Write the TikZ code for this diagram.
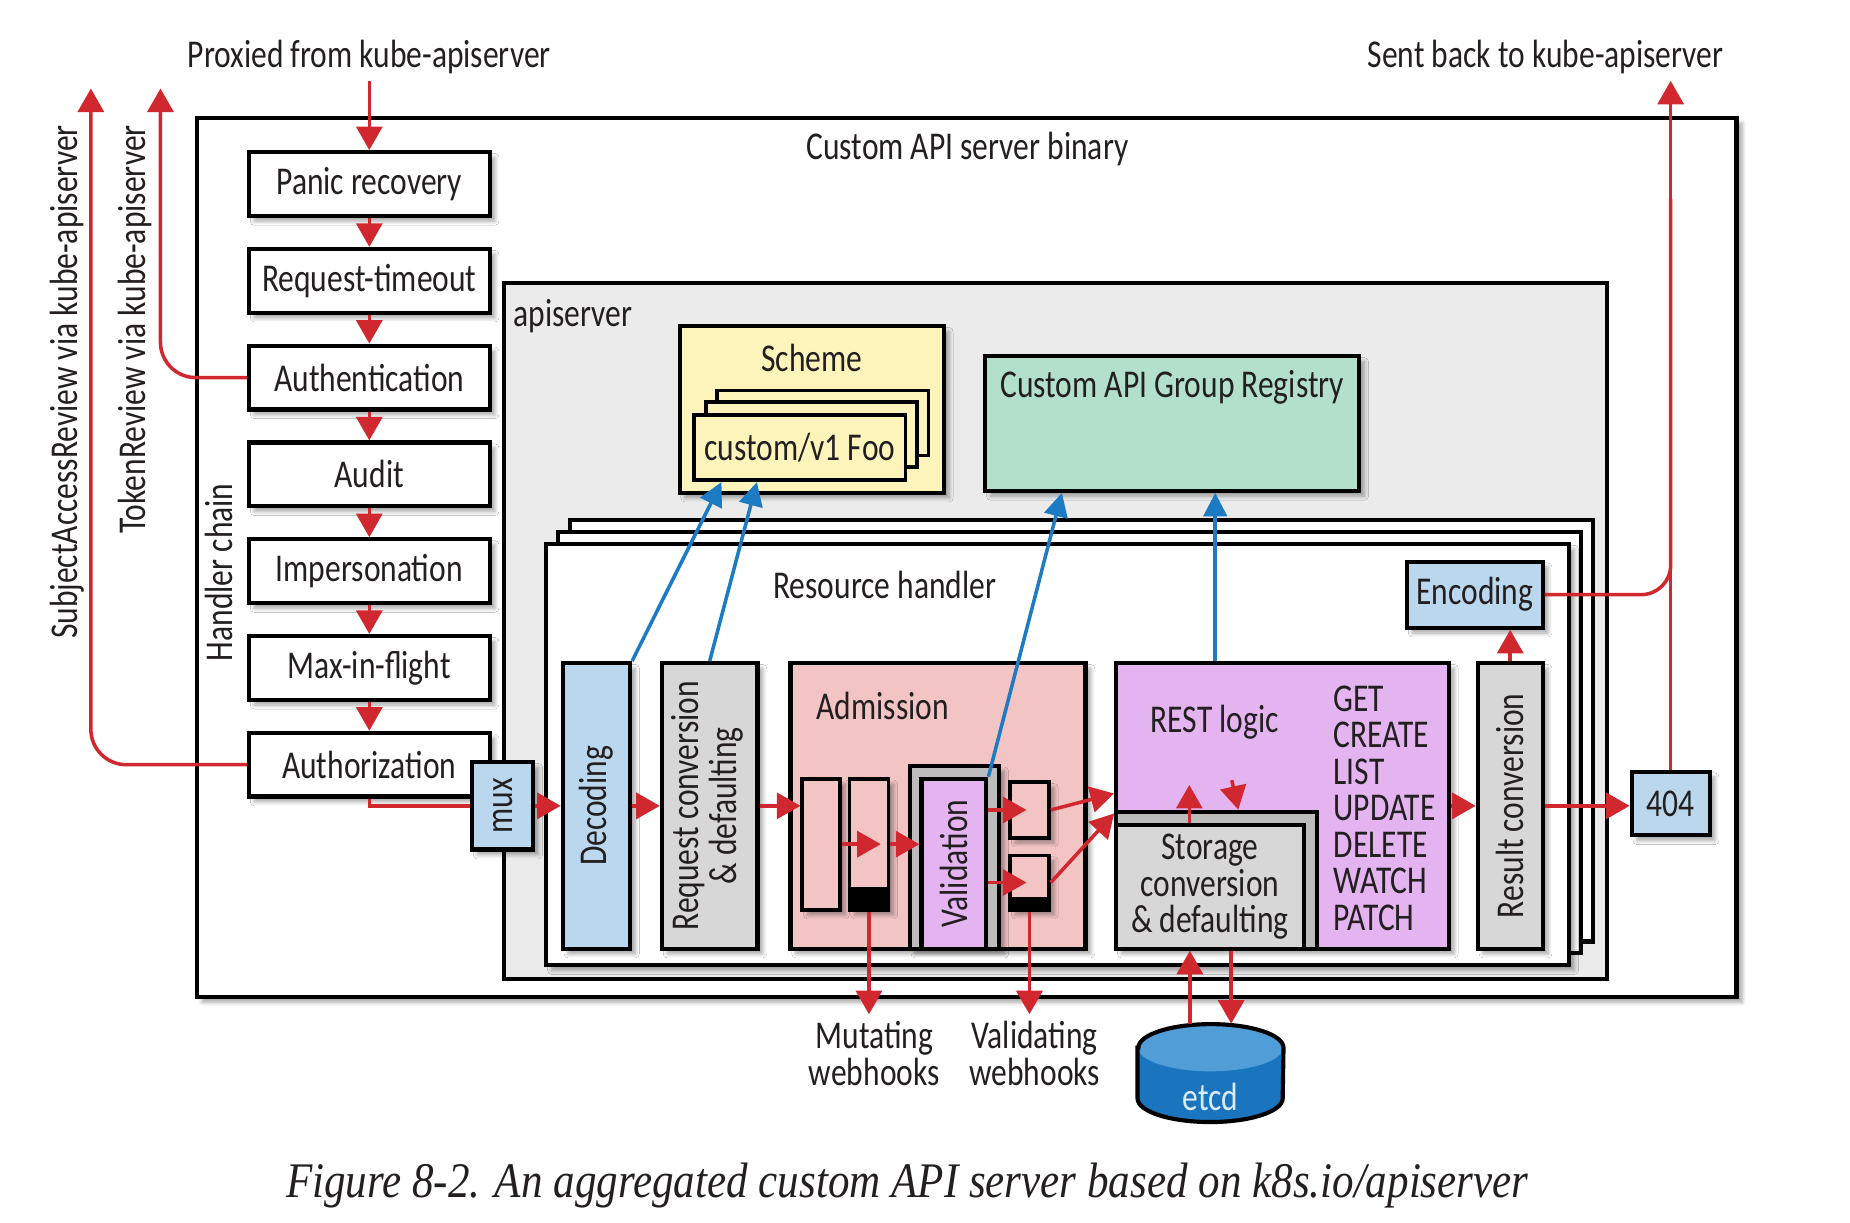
\documentclass[tikz,border=0pt]{standalone}
\usepackage{fontspec}
\usepackage{graphicx}
\setmainfont{Carlito}[FakeStretch=0.8]
\newfontfamily\capfont{Liberation Serif}[FakeStretch=0.865]
\usetikzlibrary{arrows.meta}
\usetikzlibrary{calc}
\usetikzlibrary{positioning}
\usetikzlibrary{shadows.blur}

\definecolor{txt}{RGB}{35,31,32}
\definecolor{bluefill}{RGB}{187,215,237}
\definecolor{grayfill}{RGB}{215,215,215}
\definecolor{pinkfill}{RGB}{243,196,196}
\definecolor{violetfill}{RGB}{228,180,241}
\definecolor{yellowfill}{RGB}{252,244,186}
\definecolor{greenfill}{RGB}{179,224,202}
\definecolor{apigray}{RGB}{235,235,235}
\definecolor{framegray}{RGB}{188,188,188}
\definecolor{redline}{RGB}{208,40,46}
\definecolor{bluearrow}{RGB}{28,123,194}
\definecolor{etcdblue}{RGB}{26,117,190}
\definecolor{etcdtop}{RGB}{80,157,216}
\definecolor{etcdtxt}{RGB}{215,235,250}

\tikzset{
  plainbox/.style={draw=black, line width=2pt, inner sep=0pt},
  boxshadow/.style={blur shadow={shadow xshift=0.9mm, shadow yshift=-0.9mm, shadow blur steps=6, shadow opacity=35}},
  chainbox/.style={plainbox, boxshadow, fill=white, minimum width=40.8mm, minimum height=10.8mm},
  tallbox/.style={plainbox, boxshadow, minimum height=48.4mm},
  cardbox/.style={plainbox, line width=1.8pt, fill=yellowfill, minimum width=35.8mm, minimum height=11mm},
  rhcard/.style={plainbox, fill=white, minimum width=173.4mm, minimum height=71.4mm},
  minibox/.style={plainbox, boxshadow, line width=1.8pt, fill=pinkfill},
  blackfoot/.style={path picture={\fill[black] (path picture bounding box.south west) rectangle ([yshift=#1]path picture bounding box.south east);}},
  redline/.style={draw=redline, line width=1.7pt},
  redarrow/.style={redline, -{Triangle[width=4.4mm,length=4mm]}},
  bluearrow/.style={draw=bluearrow, line width=1.7pt, -{Triangle[width=4mm,length=4mm]}}
}

\begin{document}
\begin{tikzpicture}[x=0.2mm, y=-0.2mm, font=\fontsize{19}{17.6}\selectfont, text=txt]
  \useasboundingbox (0,0) rectangle (1568,1036);

  % custom API server binary
  \node[plainbox, boxshadow, line width=2.3pt, fill=white, minimum width=261mm, minimum height=149mm] (binary) at (819.5,472.5) {};
  \node (binlbl) at (820,126) {Custom API server binary};

  % handler chain
  \node[chainbox] (panic) at (313,156) {Panic recovery};
  \node[chainbox, below=4.9mm of panic] (timeout) {Request-timeout};
  \node[chainbox, below=4.9mm of timeout] (authn) {Authentication};
  \node[chainbox, below=4.9mm of authn] (audit) {Audit};
  \node[chainbox, below=4.9mm of audit] (imperson) {Impersonation};
  \node[chainbox, below=4.9mm of imperson] (maxflight) {Max-in-flight};
  \node[chainbox, below=4.9mm of maxflight] (authz) {Authorization};
  \node[rotate=90] (hclbl) at (186,485) {Handler chain};

  \foreach \a/\b in {panic/timeout, timeout/authn, authn/audit, audit/imperson, imperson/maxflight, maxflight/authz}
    \draw[redarrow] (\a) -- (\b);

  \node (proxied) at (313,48) {Proxied from kube-apiserver};
  \node (sentback) at (1310,48) {Sent back to kube-apiserver};
  \draw[redarrow] (proxied.south) -- (panic.north);

  % reviews sent back to kube-apiserver
  \coordinate (sartop) at (77,75);
  \coordinate (trtop) at (136,75);
  \node[rotate=90, anchor=east] (sarlbl) at (57,100) {SubjectAccessReview via kube-apiserver};
  \node[rotate=90, anchor=east] (trlbl) at (114,100) {TokenReview via kube-apiserver};
  \draw[redarrow, rounded corners=6mm] (authz.west) -| (sartop);
  \draw[redarrow, rounded corners=6mm] (authn.west) -| (trtop);

  % apiserver
  \node[plainbox, fill=apigray, minimum width=187mm, minimum height=118mm] (api) at (894.5,535) {};
  \node[anchor=west] (apilbl) at (429,268) {apiserver};

  \node[plainbox, boxshadow, fill=yellowfill, minimum width=44.8mm, minimum height=28.2mm] (scheme) at (688,347) {};
  \node (schemelbl) at (688,303) {Scheme};
  \node[cardbox] (card3) at (697.5,358.5) {};
  \node[cardbox] (card2) at (688,368.5) {};
  \node[cardbox] (foo) at (678,379.5) {custom/v1 Foo};

  \node[plainbox, boxshadow, fill=greenfill, minimum width=63.4mm, minimum height=22.8mm] (reg) at (993.5,359) {};
  \node (reglbl) at (993.5,328) {Custom API Group Registry};

  % resource handler
  \node[rhcard] (rh3) at (916.5,619.5) {};
  \node[rhcard] (rh2) at (906.5,629.5) {};
  \node[rhcard, boxshadow] (rh) at (896.5,639.5) {};
  \node (rhlbl) at (750,496) {Resource handler};

  \node[plainbox, boxshadow, fill=bluefill, minimum width=10.4mm, minimum height=14.8mm] (mux) at (426,683) {\rotatebox{90}{mux}};
  \node[tallbox, fill=bluefill, minimum width=11.4mm] (dec) at (505.5,683) {\rotatebox{90}{Decoding}};
  \node[tallbox, fill=grayfill, minimum width=16.2mm] (reqconv) at (601.5,683) {\rotatebox{90}{\begin{tabular}{@{}c@{}}Request conversion\\\& defaulting\end{tabular}}};

  % admission
  \node[tallbox, fill=pinkfill, minimum width=50mm] (adm) at (795,683) {};
  \node[anchor=west] (admlbl) at (686,598) {Admission};
  \node[minibox, minimum width=6.4mm, minimum height=22.2mm] (mut1) at (696,715.5) {};
  \node[minibox, blackfoot=3.8mm, minimum width=6.6mm, minimum height=22.2mm] (mut2) at (736.5,715.5) {};
  \node[plainbox, boxshadow, fill=framegray, minimum width=15.2mm, minimum height=31mm] (valframe) at (809,726.5) {};
  \node[plainbox, fill=violetfill, minimum width=11mm, minimum height=28.8mm] (val) at (808.5,732) {\rotatebox{90}{Validation}};
  \node[minibox, minimum width=6.6mm, minimum height=9.4mm] (valA) at (872.5,686.5) {};
  \node[minibox, blackfoot=2.2mm, minimum width=6.6mm, minimum height=9.2mm] (valB) at (872.5,748) {};

  % REST logic and storage
  \node[tallbox, fill=violetfill, minimum width=56.4mm] (rest) at (1087,683) {};
  \node[anchor=west] (restlbl) at (969,612) {REST logic};
  \node[anchor=north west, align=left, inner sep=0pt] (verbs) at (1130,581) {GET\\CREATE\\LIST\\UPDATE\\DELETE\\WATCH\\PATCH};
  \node[plainbox, fill=framegray, minimum width=34mm, minimum height=23.2mm] (stframe) at (1031,746) {};
  \node[plainbox, fill=grayfill, minimum width=31.8mm, minimum height=21mm, align=center] (storage) at (1025.5,751.5) {Storage\\conversion\\\& defaulting};

  \node[tallbox, fill=grayfill, minimum width=11mm] (res) at (1280,683) {\rotatebox{90}{Result conversion}};
  \node[plainbox, boxshadow, fill=bluefill, minimum width=23mm, minimum height=11.2mm] (enc) at (1250,504) {Encoding};
  \node[plainbox, boxshadow, fill=bluefill, minimum width=13.2mm, minimum height=10.8mm] (nf) at (1416,681) {404};

  % etcd
  \node[inner sep=0pt, minimum width=24.6mm, minimum height=16.6mm] (etcd) at (1026,909.5) {};
  \fill[etcdblue] ([yshift=4.3mm]etcd.west) -- ([yshift=-4.3mm]etcd.west)
    arc[start angle=180, end angle=360, x radius=12.3mm, y radius=4mm] -- ([yshift=4.3mm]etcd.east)
    arc[start angle=0, end angle=180, x radius=12.3mm, y radius=4mm] -- cycle;
  \fill[etcdtop] ([yshift=4.3mm]etcd.center) ellipse[x radius=12.3mm, y radius=4mm];
  \draw[line width=2pt] ([yshift=4.3mm]etcd.west) -- ([yshift=-4.3mm]etcd.west)
    arc[start angle=180, end angle=360, x radius=12.3mm, y radius=4mm] -- ([yshift=4.3mm]etcd.east)
    arc[start angle=0, end angle=180, x radius=12.3mm, y radius=4mm] -- cycle;
  \node[text=etcdtxt] (etcdlbl) at ([yshift=-4mm]etcd.center) {etcd};

  \node[align=center] (mutwh) at (741,893) {Mutating\\webhooks};
  \node[align=center] (valwh) at (877,893) {Validating\\webhooks};

  % request flow
  \draw[redline] (authz.south) |- (mux.west);
  \draw[redarrow] (mux) -- (dec);
  \draw[redarrow] (dec) -- (reqconv);
  \draw[redarrow] (reqconv.east) -- (reqconv.east -| mut1.west);
  \draw[redarrow] (mut1.east) -- ([xshift=2mm]mut2.center);
  \draw[redarrow] (mut2.east) -- (mut2.east -| val.west);
  \draw[redarrow] (val.east |- valA.center) -- ([xshift=-0.5mm]valA.center);
  \draw[redarrow] (val.east |- valB.center) -- ([xshift=-0.5mm]valB.center);
  \draw[redarrow] (valA.east) -- ($(rest.west |- valA.east)+(0,-14)$);
  \draw[redarrow] (valB.east) -- ($(rest.west |- valA.east)+(0,3)$);
  \draw[redarrow] (mut2.south) -- (mut2.south |- mutwh.north);
  \draw[redarrow] (valB.south) -- (valB.south |- valwh.north);

  \draw[redarrow] ([xshift=-3.5mm]storage.north) -- ([xshift=-3.5mm,yshift=6.4mm]storage.north);
  \draw[redarrow] ([xshift=3.7mm,yshift=7.2mm]storage.north) -- ([xshift=3.7mm]stframe.north);
  \draw[redarrow] ([xshift=-3.5mm]etcd.north) -- ([xshift=-3.5mm]etcd.north |- storage.south);
  \draw[redarrow] ([xshift=3.5mm]etcd.north |- storage.south) -- ([xshift=3.5mm]etcd.north);

  \draw[redarrow] (rest.east) -- (rest.east -| res.west);
  \draw[redarrow] (res.north) -- (res.north |- enc.south);
  \draw[redarrow] (res.east) -- (res.east -| nf.west);
  \draw[redarrow] (nf.north) -- (nf.north |- sentback.south);
  \draw[redline, rounded corners=5mm] (enc.east) -| ([yshift=-20mm]nf.north |- sentback.south);

  % lookups in scheme and registry
  \draw[bluearrow] (dec.north east) -- ([xshift=-13.3mm]foo.south);
  \draw[bluearrow] (reqconv.north) -- ([xshift=-7.3mm]foo.south);
  \draw[bluearrow] (val.north east) -- ([xshift=-18.7mm]reg.south);
  \draw[bluearrow] ([xshift=-11.4mm]rest.north) -- ([xshift=-11.4mm]rest.north |- reg.south);

  \node[font=\capfont\itshape\fontsize{24}{28}\selectfont] (caption) at (769,1005) {Figure 8-2. An aggregated custom API server based on k8s.io/apiserver};
\end{tikzpicture}
\end{document}
